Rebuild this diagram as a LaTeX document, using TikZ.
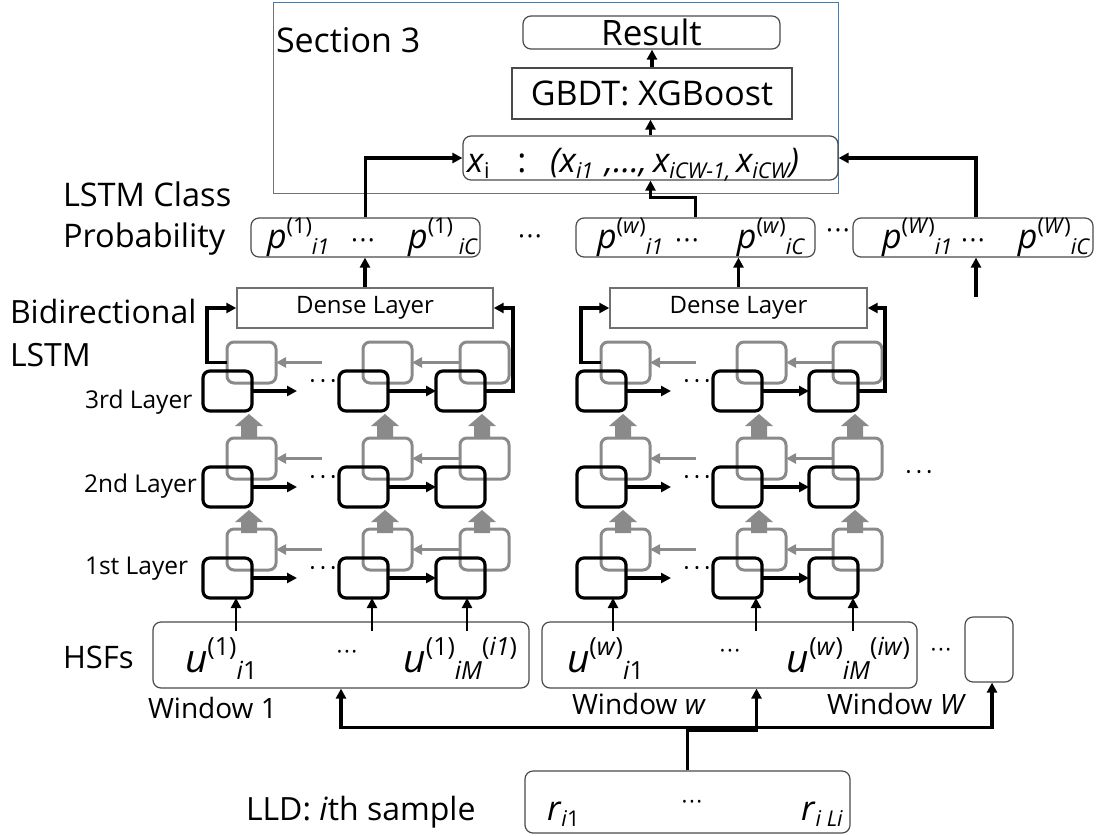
\documentclass[tikz,border=0pt]{standalone}
\usepackage{fontspec}
\setmainfont{Open Sans}
\usetikzlibrary{arrows.meta,calc}
\definecolor{secblue}{HTML}{5A7894}
\definecolor{boxgray}{HTML}{4A4A4A}
\definecolor{cellgray}{HTML}{8A8A8A}
\definecolor{densegray}{HTML}{707070}
\makeatletter
\newcommand{\hi}[1]{\raisebox{.42em}{\@tempdima=\f@size pt\@tempdima=.64\@tempdima\fontsize{\strip@pt\@tempdima}{0}\selectfont #1}}
\newcommand{\lo}[1]{\raisebox{-.18em}{\@tempdima=\f@size pt\@tempdima=.64\@tempdima\fontsize{\strip@pt\@tempdima}{0}\selectfont #1}}
\makeatother
\newcommand{\fs}[1]{\fontsize{#1}{#1}\selectfont}
\newcommand{\dd}{·\kern1.5pt·\kern1.5pt·}
\newcommand{\ddw}{·\kern4pt·\kern4pt·}
\begin{document}
\begin{tikzpicture}[x=1pt,y=-1pt,
  txt/.style={inner sep=0pt, outer sep=0pt, anchor=base west},
  txte/.style={inner sep=0pt, outer sep=0pt, anchor=base east},
  dots/.style={inner sep=0pt, outer sep=0pt, anchor=base, font=\fs{24}},
  rbox/.style={draw=boxgray, line width=1.2pt, rounded corners=8pt, inner sep=0pt},
  sbox/.style={draw=boxgray, line width=1.2pt, inner sep=0pt},
  dbox/.style={draw=densegray, line width=1.4pt, inner sep=0pt, font=\fs{24}},
  bcell/.style={draw=black, line width=3.2pt, rounded corners=7pt, minimum width=49pt, minimum height=40pt, anchor=north west, inner sep=0pt, outer sep=0pt},
  gcell/.style={draw=cellgray, line width=3pt, rounded corners=7pt, minimum width=49pt, minimum height=41pt, anchor=north west, inner sep=0pt, outer sep=0pt},
  conn/.style={draw=black, line width=3.1pt, -{Triangle[length=10pt,width=10pt]}},
  garr/.style={draw=cellgray, line width=2.8pt, -{Triangle[length=10pt,width=10pt]}},
  blk/.style={fill=cellgray, draw=none}
]
\useasboundingbox (0,0) rectangle (1102,835);

% Section 3 frame and top chain
\node[draw=secblue, line width=1.3pt, minimum width=565pt, minimum height=191pt, anchor=north west, inner sep=0pt] (sec) at (273,2) {};
\node[txt, font=\fs{34}] (sectxt) at (276,52) {Section 3};
\node[rbox, minimum width=257pt, minimum height=33pt, font=\fs{35}] (res) at (651.5,32.5) {Result};
\node[sbox, minimum width=280pt, minimum height=51pt, font=\fs{34}] (gbdt) at (652,93.5) {GBDT: XGBoost};
\node[rbox, minimum width=375pt, minimum height=44pt] (xbox) at (650.5,158) {};
\node[txt, font=\fs{34}] (xi) at (467,172) {\textit{x}\lo{i}};
\node[inner sep=0pt, anchor=base, font=\fs{34}] (colon) at (522,172) {:};
\node[txt, font=\fs{34}\itshape] (tuple) at (550,172) {(x\lo{i1}\,\,,\ldots,\,x\lo{iCW-1,}\,x\lo{iCW})};

% left labels
\node[txt, font=\fs{32.5}] (lab1) at (63,206) {LSTM Class};
\node[txt, font=\fs{32.5}] (lab2) at (63,247) {Probability};
\node[txt, font=\fs{32}] (lab3) at (10,323) {Bidirectional};
\node[txt, font=\fs{32}] (lab4) at (10,366) {LSTM};
\node[txt, font=\fs{24.5}] (ly3) at (85,408) {3rd Layer};
\node[txt, font=\fs{24.5}] (ly2) at (84,492) {2nd Layer};
\node[txt, font=\fs{24.5}] (ly1) at (85,574) {1st Layer};
\node[txt, font=\fs{31}] (hsflab) at (63,668) {HSFs};
\node[txt, font=\fs{32}] (lldlab) at (246,820) {LLD: \textit{i}th sample};

% probability boxes
\node[rbox, minimum width=229pt, minimum height=39pt] (p1) at (365.5,237.5) {};
\node[rbox, minimum width=239pt, minimum height=39pt] (pw) at (695.5,237.5) {};
\node[rbox, minimum width=240pt, minimum height=39pt] (pW) at (973,237.5) {};
\node[txt, font=\fs{34}] (p1a) at (267,248) {\textit{p}\hi{(1)}\lo{\textit{i1}}};
\node[dots, font=\fs{26}] (p1d) at (363,249.5) {\dd};
\node[txte, font=\fs{34}] (p1b) at (478,248) {\textit{p}\hi{(1)}\,\lo{\textit{iC}}};
\node[txt, font=\fs{34}] (pwa) at (597,248) {\textit{p}\hi{(\textit{w})}\lo{\textit{i1}}};
\node[dots, font=\fs{26}] (pwd) at (687,249.5) {\dd};
\node[txte, font=\fs{34}] (pwb) at (805,248) {\textit{p}\hi{(\textit{w})}\lo{\textit{iC}}};
\node[txt, font=\fs{34}] (pWa) at (882,248) {\textit{p}\hi{(\textit{W})}\lo{\textit{i1}}};
\node[dots, font=\fs{26}] (pWd) at (973,249.5) {\dd};
\node[txte, font=\fs{34}] (pWb) at (1090,248) {\textit{p}\hi{(\textit{W})}\lo{\textit{iC}}};
\node[dots, font=\fs{26}] (pgap1) at (530,245.5) {\dd};
\node[dots, font=\fs{26}] (pgap2) at (838,239.5) {\dd};

% dense layers
\node[dbox, minimum width=256pt, minimum height=40pt] (denseL) at (365,308) {Dense Layer};
\node[dbox, minimum width=257pt, minimum height=40pt] (denseR) at (738.5,308) {Dense Layer};

% LSTM cells
\foreach \w/\xa/\xb/\xc in {L/203/339/436, R/577/713/809} {
  \foreach \l/\y in {1/558,2/467,3/371} {
    \foreach \c/\x in {1/\xa,2/\xb,3/\xc} {
      \node[gcell] (g\w\l\c) at (\x+24,\y-29) {};
      \node[bcell] (b\w\l\c) at (\x,\y) {};
    }
  }
}
\foreach \w in {L,R} {
  \foreach \l in {1,2,3} {
    \coordinate (be\w\l) at ($(b\w\l1.east)+(45,0)$);
    \draw[conn] (b\w\l1.east) -- (be\w\l);
    \draw[conn] (b\w\l2.east) -- (b\w\l3.west);
    \coordinate (gs\w\l) at ($(g\w\l1.east)+(46,0)$);
    \draw[garr] (gs\w\l) -- (g\w\l1.east);
    \draw[garr] (g\w\l3.west) -- (g\w\l2.east);
    \node[dots] (dt\w\l) at ($(b\w\l1.east)+(71,-2)$) {\ddw};
  }
  \foreach \l/\m in {1/2,2/3} {
    \foreach \c in {1,2,3} {
      \coordinate (tip\w\l\c) at ($(b\w\m\c.south east)+(-3,3)$);
      \fill[blk] (tip\w\l\c) -- ++(14,12) -- ++(-6,0) -- ++(0,11) -- ++(-16,0) -- ++(0,-11) -- ++(-6,0) -- cycle;
    }
  }
}
\node[dots] (dtright) at (919,480) {\ddw};

% feedback into dense layers
\draw[conn] (gL31.west) -- ++(-20,0) |- (denseL.west);
\draw[conn] (bL33.east) -- ++(28,0) |- (denseL.east);
\draw[conn] (gR31.west) -- ++(-20,0) |- (denseR.west);
\draw[conn] (bR33.east) -- ++(27,0) |- (denseR.east);

% dense to probability
\draw[conn] (denseL.north) -- (denseL.north |- p1.south);
\draw[conn] (denseR.north) -- (denseR.north |- pw.south);
\coordinate (wfeed) at (976,297);
\draw[conn] (wfeed) -- (wfeed |- pW.south);

% probability to feature vector
\draw[conn] (p1.north) |- (xbox.west);
\draw[conn] (pw.north) -- ++(0,-20) -| (xbox.south);
\draw[conn] ([xshift=3pt]pW.north) |- (xbox.east);
\draw[conn] (xbox.north) -- (xbox.north |- gbdt.south);
\draw[conn] (gbdt.north) -- (gbdt.north |- res.south);

% HSF boxes
\node[rbox, minimum width=376pt, minimum height=66pt] (hsfL) at (341,655) {};
\node[rbox, minimum width=375pt, minimum height=66pt] (hsfW) at (729.5,655) {};
\node[rbox, minimum width=48pt, minimum height=65pt] (hsfS) at (989,649.5) {};
\node[txt, font=\fs{39}] (u1a) at (185,672) {\textit{u}\hi{(1)}\lo{\textit{i}1}};
\node[dots, font=\fs{22}] (u1d) at (347,659) {\dd};
\node[txte, font=\fs{39}] (u1b) at (517,672) {\textit{u}\hi{(1)}\lo{\textit{iM}}\hi{(\textit{i1})}};
\node[txt, font=\fs{39}] (uwa) at (567,672) {\textit{u}\hi{(\textit{w})}\lo{\textit{i}1}};
\node[dots, font=\fs{22}] (uwd) at (730,658) {\dd};
\node[txte, font=\fs{39}] (uwb) at (910,672) {\textit{u}\hi{(\textit{w})}\lo{\textit{iM}}\hi{(\textit{iw})}};
\node[dots, font=\fs{22}] (ugap) at (941,657) {\dd};
\node[txt, font=\fs{28}] (win1) at (148,718) {Window 1};
\node[txt, font=\fs{28}] (winw) at (572,714) {Window \textit{w}};
\node[txt, font=\fs{28}] (winW) at (827,714) {Window \textit{W}};

% HSF to first layer
\foreach \c/\o in {1/33,2/33,3/31} {
  \draw[conn, line width=2.4pt] ($(bL1\c.south west |- hsfL.north)+(\o,10)$) -- ($(bL1\c.south west)+(\o,0)$);
}
\foreach \c/\o in {1/36,2/43,3/44} {
  \draw[conn, line width=2.4pt] ($(bR1\c.south west |- hsfW.north)+(\o,10)$) -- ($(bR1\c.south west)+(\o,0)$);
}

% LLD
\node[rbox, minimum width=325pt, minimum height=62pt] (lld) at (687.5,802) {};
\node[txt, font=\fs{34}] (r1) at (547,820) {\textit{r}\lo{\textit{i}1}};
\node[dots, font=\fs{22}] (rd) at (692,809.5) {\dd};
\node[txte, font=\fs{34}] (r2) at (843,820) {\textit{r}\lo{\textit{i Li}}};
\draw[conn] (lld.north) -- ++(0,-43) -| (hsfL.south);
\draw[conn] (lld.north) -- ++(0,-40) -| ($(hsfW.south)+(27,0)$);
\draw[conn] (lld.north) -- ++(0,-43) -| ($(hsfS.south)+(3,0)$);
\end{tikzpicture}
\end{document}
